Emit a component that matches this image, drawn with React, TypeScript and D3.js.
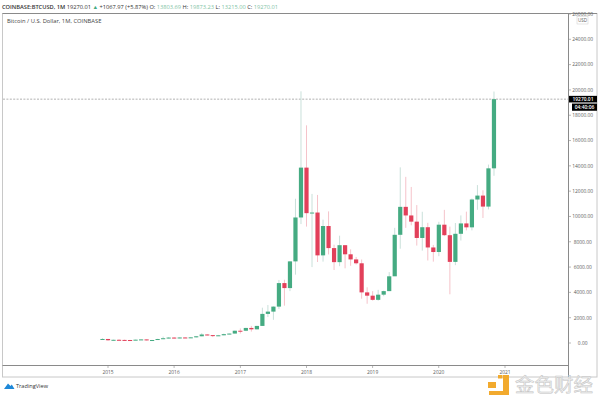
import React from "react";
import * as d3 from "d3";

const startYear = 2014;
const startMonth = 11;
const opens = [300,318,217,254,244,236,230,263,284,230,236,314,377,430,369,437,416,448,531,673,624,575,609,700,745,970,968,1190,1080,1350,2300,2480,2875,4735,4340,6450,9920,13860,10260,10310,6925,9245,7500,6390,7730,7010,6605,6300,4000,3740,3410,3820,4100,5270,8550,10760,10080,9590,8300,9150,7550,7190,9350,8520,6410,8630,9450,9140,11340,11650,10780,13803.69];
const highs = [380,320,265,300,265,248,268,315,285,247,335,505,470,465,445,440,470,550,785,700,625,640,740,755,980,1150,1200,1350,1355,2790,3000,2900,4980,5000,6470,11400,19890,17200,11780,11700,9750,10400,7770,8480,7740,7400,6800,6600,4400,4100,4200,4140,5600,9100,13880,13130,12330,10900,10370,9500,7750,9580,10520,9200,9480,10080,10380,11420,12480,12070,14100,19873.23];
const lows = [290,170,200,236,214,228,220,253,198,225,236,304,350,350,365,395,415,435,530,600,470,570,607,690,745,750,940,900,1080,1350,2050,1830,2680,2950,4100,5400,9400,9200,6000,6400,6430,7000,5770,6070,5900,6100,6200,3500,3100,3350,3340,3700,4100,5340,7450,9100,9300,7700,7300,6520,6430,6860,8450,3850,6150,8100,8900,8900,10530,9880,10560,13215];
const closes = [318,217,254,244,236,230,263,284,230,236,314,377,430,369,437,416,448,531,673,624,575,609,700,745,970,968,1190,1080,1350,2300,2480,2875,4735,4340,6450,9920,13860,10260,10310,6925,9245,7500,6390,7730,7010,6605,6300,4000,3740,3410,3820,4100,5270,8550,10760,10080,9590,8300,9150,7550,7190,9350,8520,6410,8630,9450,9140,11340,11650,10780,13803.69,19270.01];

const priceTicks = [0,2000,4000,6000,8000,10000,12000,14000,16000,18000,20000,22000,24000,26000];
const yearTicks = [2015,2016,2017,2018,2019,2020,2021];

const WIDTH = 600;
const HEIGHT = 401;
const FONT = "'Open Sans', 'Noto Sans', sans-serif";
const UP = "#45ab82";
const DOWN = "#e2405a";
const UP_WICK = "#c3dcd6";
const DOWN_WICK = "#f4bcc4";
const FRAME = "#8a8a8a";
const LIGHT_FRAME = "#c8c8c8";
const TEXT = "#5c5c5c";

const x = d3.scaleTime().domain([new Date(2015, 0, 1), new Date(2021, 0, 1)]).range([108, 505]);
const y = d3.scaleLinear().domain([0, 26000]).range([343, 14]);
const monthX = (i: number) => {
  const step = (505 - 108) / 72;
  return x(new Date(2015, 0, 1)) + (i - 1) * step;
};

const candles = opens.map((open, i) => ({
  date: new Date(startYear, startMonth + i, 1),
  open,
  high: highs[i],
  low: lows[i],
  close: closes[i],
}));

const last = closes[closes.length - 1];

export default function App() {
  return (
    <svg
      width={WIDTH}
      height={HEIGHT}
      viewBox={`0 0 ${WIDTH} ${HEIGHT}`}
      style={{ position: "absolute", left: 0, top: 0, background: "#fff" }}
      fontFamily={FONT}
    >
      <text x={2} y={9} fontSize={5.7} fill="#333">
        <tspan fontWeight={600}>COINBASE:BTCUSD, 1M </tspan>
        <tspan>19270.01 </tspan>
        <tspan fill={UP}>▲ </tspan>
        <tspan>+1067.97 (+5.87%) </tspan>
        <tspan>O: </tspan><tspan fill="#7fc4a6">13803.69 </tspan>
        <tspan>H: </tspan><tspan fill="#7fc4a6">19873.23 </tspan>
        <tspan>L: </tspan><tspan fill="#7fc4a6">13215.00 </tspan>
        <tspan>C: </tspan><tspan fill="#7fc4a6">19270.01</tspan>
      </text>

      <rect x={2.5} y={13.5} width={594.5} height={363.5} fill="none" stroke={LIGHT_FRAME} strokeWidth={1} />
      <line x1={2.5} x2={597} y1={13.5} y2={13.5} stroke={FRAME} />
      <line x1={2.5} x2={568} y1={365.5} y2={365.5} stroke={FRAME} />
      <line x1={568.5} x2={568.5} y1={13.5} y2={377} stroke={FRAME} />

      <text x={7} y={22.5} fontSize={5.8} fill="#444">Bitcoin / U.S. Dollar, 1M, COINBASE</text>

      {priceTicks.map((t) => (
        <g key={t} transform={`translate(568,${y(t)})`}>
          <line x1={0} x2={3} y1={0} y2={0} stroke={FRAME} strokeWidth={0.6} />
          <text x={14.7} y={1.8} fontSize={4.9} textAnchor="middle" fill={TEXT}>{d3.format(".2f")(t)}</text>
        </g>
      ))}

      <rect x={577} y={16.5} width={11} height={7.5} fill="#fff" stroke="#d4d4d4" strokeWidth={0.6} />
      <text x={582.5} y={22.1} fontSize={4.6} textAnchor="middle" fill={TEXT}>USD</text>

      <line x1={3} x2={568} y1={y(last)} y2={y(last)} stroke="#8f8f8f" strokeWidth={0.7} strokeDasharray="2 1.4" />

      {candles.map((d, i) => {
        const cx = monthX(i);
        const up = d.close >= d.open;
        const top = y(Math.max(d.open, d.close));
        const bottom = y(Math.min(d.open, d.close));
        return (
          <g key={d.date.getTime()}>
            <line x1={cx} x2={cx} y1={y(d.high)} y2={y(d.low)} stroke={up ? UP_WICK : DOWN_WICK} strokeWidth={0.9} />
            <rect x={cx - 2.1} y={top} width={4.2} height={Math.max(bottom - top, 1)} fill={up ? UP : DOWN} />
          </g>
        );
      })}

      <rect x={569} y={y(last) - 3.3} width={28} height={6.6} fill="#000" />
      <text x={583} y={y(last) + 1.8} fontSize={4.9} fontWeight={600} textAnchor="middle" fill="#fff">19270.01</text>
      <rect x={572} y={y(last) + 4.4} width={25} height={7.2} fill="#000" />
      <text x={584.5} y={y(last) + 9.8} fontSize={4.9} fontWeight={600} textAnchor="middle" fill="#fff">04:40:06</text>

      <path d="M4 389 L8 383.5 L10.5 386 L11.8 384.5 L14.5 389 Z" fill="#1e88d8" />
      <text x={16} y={388.4} fontSize={5.6} fill="#333">TradingView</text>

      <g fill="#f2aa2e">
        <rect x={488} y={382} width={8} height={6} />
        <rect x={498} y={375} width={4.5} height={3.5} />
        <path d="M503 375 H509 V395 H489 V391 H503 Z" />
      </g>
      <text
        x={515}
        y={392}
        fontSize={19}
        textLength={78}
        lengthAdjust="spacingAndGlyphs"
        fontFamily="'Noto Sans CJK SC'"
        fill="#f0f0f0"
        stroke="#c4c4c4"
        strokeWidth={0.5}
      >
        金色财经
      </text>

      {yearTicks.map((year) => {
        const px = x(new Date(year, 0, 1));
        return (
          <g key={year}>
            <line x1={px} x2={px} y1={365.5} y2={368} stroke={FRAME} strokeWidth={0.6} />
            <text x={px} y={374} fontSize={4.9} textAnchor="middle" fill={TEXT}>{year}</text>
          </g>
        );
      })}
    </svg>
  );
}
